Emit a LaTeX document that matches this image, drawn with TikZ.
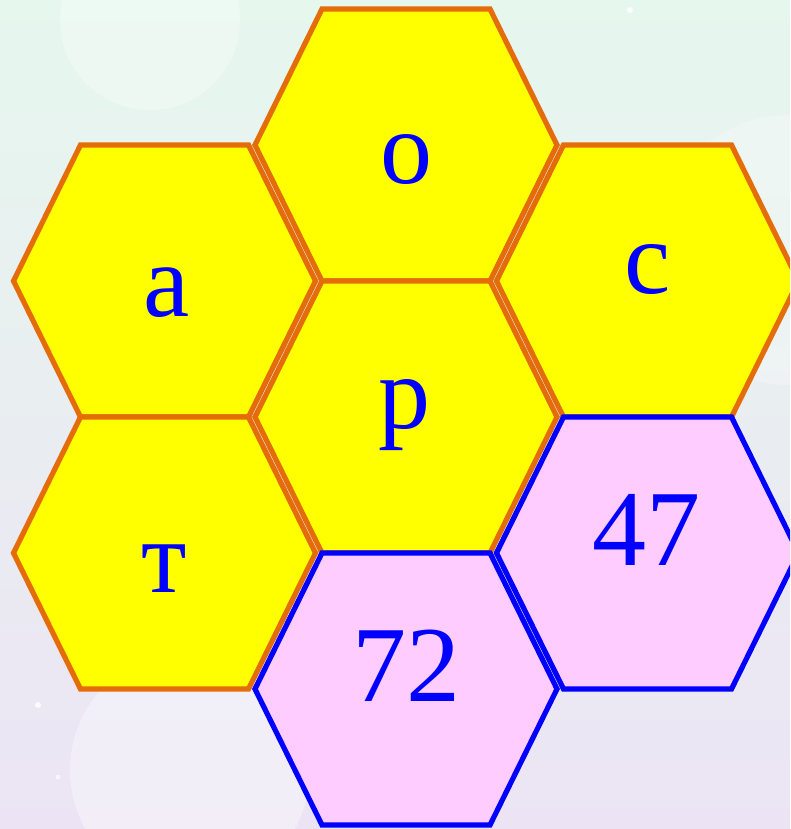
\documentclass[tikz,border=0pt]{standalone}
\usepackage{fontspec}
\setmainfont{Liberation Serif}
\definecolor{hexorange}{RGB}{228,108,10}
\definecolor{hexblue}{RGB}{0,0,255}
\definecolor{hexyellow}{RGB}{255,255,0}
\definecolor{hexpink}{RGB}{255,204,255}
\definecolor{bgtop}{RGB}{230,247,238}
\definecolor{bgmid}{RGB}{240,246,246}
\definecolor{bgbot}{RGB}{236,228,244}
\tikzset{
  hexcell/.pic={\path[pic actions] (-84,-136) -- (84,-136) -- (151,0) -- (84,136) -- (-84,136) -- (-151,0) -- cycle;},
  yellowhex/.style={draw=hexorange, fill=hexyellow, line width=5.2pt, miter limit=10},
  pinkhex/.style={draw=hexblue, fill=hexpink, line width=5.2pt, miter limit=10},
  lbl/.style={text=hexblue, font=\fontsize{104}{104}\selectfont, inner sep=0pt, anchor=base},
  numlbl/.style={lbl, font=\fontsize{108}{108}\selectfont},
  glow/.style={fill=white, opacity=0.35},
}
\begin{document}
\begin{tikzpicture}[x=1pt, y=-1pt]
\useasboundingbox (0,0) rectangle (790,829);
\clip (0,0) rectangle (790,829);
% background
\shade[top color=bgtop, middle color=bgmid, bottom color=bgbot] (0,0) rectangle (790,829);
\fill[glow] (190,770) circle (120);
\fill[glow, opacity=0.25] (790,250) circle (135);
\fill[glow, opacity=0.3] (150,20) circle (90);
\fill[white, opacity=0.8] (630,10) circle (3);
\fill[white, opacity=0.8] (38,705) circle (3);
\fill[white, opacity=0.6] (58,777) circle (2.5);
% hexagons
\pic[yellowhex] at (406,145) {hexcell};
\pic[yellowhex] at (164.5,281) {hexcell};
\pic[yellowhex] at (647.5,281) {hexcell};
\pic[yellowhex] at (406,417) {hexcell};
\pic[yellowhex] at (164.5,553) {hexcell};
\pic[pinkhex] at (647.5,553) {hexcell};
\pic[pinkhex] at (406,689) {hexcell};
% labels
\node[lbl] (o) at (406,183) {o};
\node[lbl] (a) at (166.5,316) {a};
\node[lbl] (c) at (648,293) {c};
\node[lbl] (p) at (404,428) {p};
\node[lbl] (te) at (164.5,592) {т};
\node[numlbl] (n47) at (646.5,565) {47};
\node[numlbl] (n72) at (406,701) {72};
\end{tikzpicture}
\end{document}
